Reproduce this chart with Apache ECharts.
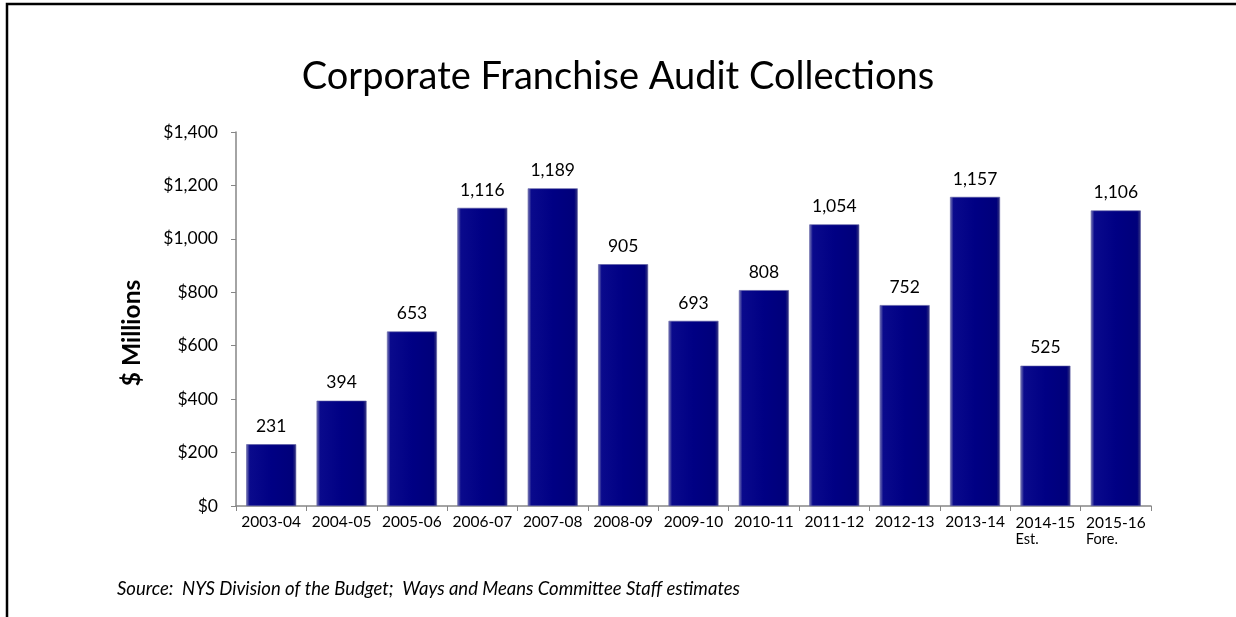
<!DOCTYPE html>
<html><head><meta charset="utf-8">
<script src="https://cdn.jsdelivr.net/npm/echarts@6/dist/echarts.min.js"></script>
<style>html,body{margin:0;padding:0;background:#fff}#c{width:1236px;height:617px}</style>
</head><body><div id="c"></div>
<script>
const categories = ['2003-04','2004-05','2005-06','2006-07','2007-08','2008-09','2009-10','2010-11','2011-12','2012-13','2013-14','2014-15','2015-16'];
const subLabels = ['','','','','','','','','','','','Est.','Fore.'];
const values = [231,394,653,1116,1189,905,693,808,1054,752,1157,525,1106];
const yTicks = [0,200,400,600,800,1000,1200,1400];

const FONT = 'Lato, "Liberation Sans", sans-serif';
const chart = echarts.init(document.getElementById('c'));
const barColor = new echarts.graphic.LinearGradient(0,0,1,0,[
  {offset:0,color:'#7d7db8'},{offset:0.07,color:'#0a0a8c'},
  {offset:0.5,color:'#000084'},{offset:0.93,color:'#00007a'},{offset:1,color:'#3a3a80'}]);
chart.setOption({
  backgroundColor:'#fff',
  animation:false,
  title:{text:'Corporate Franchise Audit Collections',left:'center',top:53,
    textStyle:{fontFamily:FONT,fontSize:38,fontWeight:'normal',color:'#000'}},
  grid:{left:236,right:85,top:132,bottom:111},
  xAxis:{type:'category',data:categories,
    axisLine:{lineStyle:{color:'#868686',width:1.5}},
    axisTick:{show:true,length:5,lineStyle:{color:'#868686'}},
    axisLabel:{interval:0,margin:8,color:'#000',fontFamily:FONT,fontSize:15.5,
      formatter:function(v,i){return subLabels[i]?('{a|'+v+'}\n{b|'+subLabels[i]+'}'):v;},
      rich:{a:{fontFamily:FONT,fontSize:15.5,color:'#000',lineHeight:18},
            b:{fontFamily:FONT,fontSize:14.5,color:'#000',lineHeight:14,align:'left'}}}},
  yAxis:{type:'value',min:0,max:1400,interval:200,
    axisLine:{show:true,lineStyle:{color:'#868686',width:1.5}},
    axisTick:{show:true,length:5,lineStyle:{color:'#868686'}},
    splitLine:{show:false},
    axisLabel:{margin:18,color:'#000',fontFamily:FONT,fontSize:17.5,
      formatter:function(v){return yTicks.indexOf(v)>=0?('$'+v.toLocaleString('en-US')):'';}}},
  series:[{type:'bar',data:values,barCategoryGap:'29%',
    itemStyle:{color:barColor,borderColor:'#5858a0',borderWidth:0.6},
    label:{show:true,position:'top',distance:9,color:'#000',fontFamily:FONT,fontSize:17.5,
      formatter:function(p){return p.value.toLocaleString('en-US');}}}],
  graphic:[
    {type:'polyline',shape:{points:[[7,617],[7,4],[1236,4]]},style:{stroke:'#000',lineWidth:2.5,fill:null}},
    {type:'text',x:132,y:333,rotation:Math.PI/2,style:{text:'$ Millions',fontFamily:FONT,fontSize:24.5,fontWeight:'bold',
      fill:'#000',align:'center',verticalAlign:'middle'}},
    {type:'text',left:117,top:580,style:{text:'Source:  NYS Division of the Budget;  Ways and Means Committee Staff estimates',
      fontFamily:FONT,fontSize:18.5,fontStyle:'italic',fill:'#000'}}
  ]
});
</script></body></html>
